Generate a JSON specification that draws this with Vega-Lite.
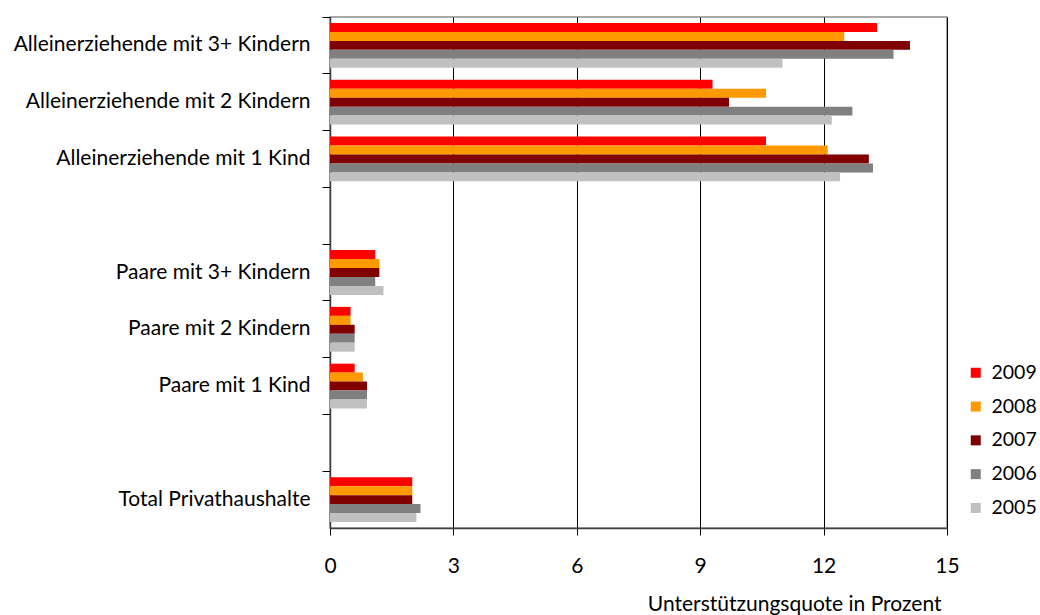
{
  "$schema": "https://vega.github.io/schema/vega-lite/v6.json",
  "width": 617,
  "height": 511,
  "autosize": {"type": "none"},
  "padding": {"left": 330, "top": 17, "right": 93, "bottom": 87},
  "config": {
    "font": "Lato",
    "view": {"stroke": "#8c8c8c", "strokeWidth": 1.5}
  },
  "data": {
    "values": [
      {"cat": "Alleinerziehende mit 3+ Kindern", "year": "2009", "v": 13.3},
      {"cat": "Alleinerziehende mit 3+ Kindern", "year": "2008", "v": 12.5},
      {"cat": "Alleinerziehende mit 3+ Kindern", "year": "2007", "v": 14.1},
      {"cat": "Alleinerziehende mit 3+ Kindern", "year": "2006", "v": 13.7},
      {"cat": "Alleinerziehende mit 3+ Kindern", "year": "2005", "v": 11.0},
      {"cat": "Alleinerziehende mit 2 Kindern", "year": "2009", "v": 9.3},
      {"cat": "Alleinerziehende mit 2 Kindern", "year": "2008", "v": 10.6},
      {"cat": "Alleinerziehende mit 2 Kindern", "year": "2007", "v": 9.7},
      {"cat": "Alleinerziehende mit 2 Kindern", "year": "2006", "v": 12.7},
      {"cat": "Alleinerziehende mit 2 Kindern", "year": "2005", "v": 12.2},
      {"cat": "Alleinerziehende mit 1 Kind", "year": "2009", "v": 10.6},
      {"cat": "Alleinerziehende mit 1 Kind", "year": "2008", "v": 12.1},
      {"cat": "Alleinerziehende mit 1 Kind", "year": "2007", "v": 13.1},
      {"cat": "Alleinerziehende mit 1 Kind", "year": "2006", "v": 13.2},
      {"cat": "Alleinerziehende mit 1 Kind", "year": "2005", "v": 12.4},
      {"cat": "Paare mit 3+ Kindern", "year": "2009", "v": 1.1},
      {"cat": "Paare mit 3+ Kindern", "year": "2008", "v": 1.2},
      {"cat": "Paare mit 3+ Kindern", "year": "2007", "v": 1.2},
      {"cat": "Paare mit 3+ Kindern", "year": "2006", "v": 1.1},
      {"cat": "Paare mit 3+ Kindern", "year": "2005", "v": 1.3},
      {"cat": "Paare mit 2 Kindern", "year": "2009", "v": 0.5},
      {"cat": "Paare mit 2 Kindern", "year": "2008", "v": 0.5},
      {"cat": "Paare mit 2 Kindern", "year": "2007", "v": 0.6},
      {"cat": "Paare mit 2 Kindern", "year": "2006", "v": 0.6},
      {"cat": "Paare mit 2 Kindern", "year": "2005", "v": 0.6},
      {"cat": "Paare mit 1 Kind", "year": "2009", "v": 0.6},
      {"cat": "Paare mit 1 Kind", "year": "2008", "v": 0.8},
      {"cat": "Paare mit 1 Kind", "year": "2007", "v": 0.9},
      {"cat": "Paare mit 1 Kind", "year": "2006", "v": 0.9},
      {"cat": "Paare mit 1 Kind", "year": "2005", "v": 0.9},
      {"cat": "Total Privathaushalte", "year": "2009", "v": 2.0},
      {"cat": "Total Privathaushalte", "year": "2008", "v": 2.0},
      {"cat": "Total Privathaushalte", "year": "2007", "v": 2.0},
      {"cat": "Total Privathaushalte", "year": "2006", "v": 2.2},
      {"cat": "Total Privathaushalte", "year": "2005", "v": 2.1}
    ]
  },
  "mark": {"type": "bar"},
  "encoding": {
    "y": {
      "field": "cat",
      "type": "nominal",
      "title": null,
      "scale": {
        "domain": [
          "Alleinerziehende mit 3+ Kindern",
          "Alleinerziehende mit 2 Kindern",
          "Alleinerziehende mit 1 Kind",
          "gap1",
          "Paare mit 3+ Kindern",
          "Paare mit 2 Kindern",
          "Paare mit 1 Kind",
          "gap2",
          "Total Privathaushalte"
        ],
        "paddingInner": 0,
        "paddingOuter": 0
      },
      "axis": {
        "labelExpr": "indexof(datum.value, 'gap') == 0 ? '' : datum.value",
        "bandPosition": 0,
        "tickSize": 8,
        "tickColor": "#000000",
        "domainColor": "#404040",
        "domainWidth": 1.5,
        "labelFontSize": 21,
        "labelColor": "#000000",
        "labelPadding": 12,
        "labelLimit": 400
      }
    },
    "yOffset": {
      "field": "year",
      "type": "nominal",
      "sort": ["2009", "2008", "2007", "2006", "2005"],
      "scale": {"paddingOuter": 0.67}
    },
    "x": {
      "field": "v",
      "type": "quantitative",
      "scale": {"domain": [0, 15], "nice": false},
      "axis": {
        "values": [0, 3, 6, 9, 12, 15],
        "grid": true,
        "gridColor": "#000000",
        "gridOpacity": 1,
        "tickSize": 7,
        "tickColor": "#000000",
        "domainColor": "#404040",
        "domainWidth": 1.5,
        "labelFontSize": 21,
        "labelColor": "#000000",
        "labelPadding": 20,
        "labelFlush": false,
        "title": "Unterstützungsquote in Prozent",
        "titleFontSize": 21,
        "titleFontWeight": "normal",
        "titleColor": "#000000",
        "titleAnchor": "end",
        "titleAlign": "right",
        "titleX": 611,
        "titleY": 65
      }
    },
    "color": {
      "field": "year",
      "type": "nominal",
      "sort": ["2009", "2008", "2007", "2006", "2005"],
      "scale": {
        "range": ["#FF0000", "#FF9900", "#800000", "#808080", "#C0C0C0"]
      },
      "legend": {
        "title": null,
        "orient": "none",
        "legendX": 636,
        "legendY": 346,
        "symbolType": "square",
        "symbolSize": 100,
        "labelFontSize": 19.5,
        "labelColor": "#000000",
        "labelOffset": 6,
        "rowPadding": 12.8
      }
    }
  }
}
